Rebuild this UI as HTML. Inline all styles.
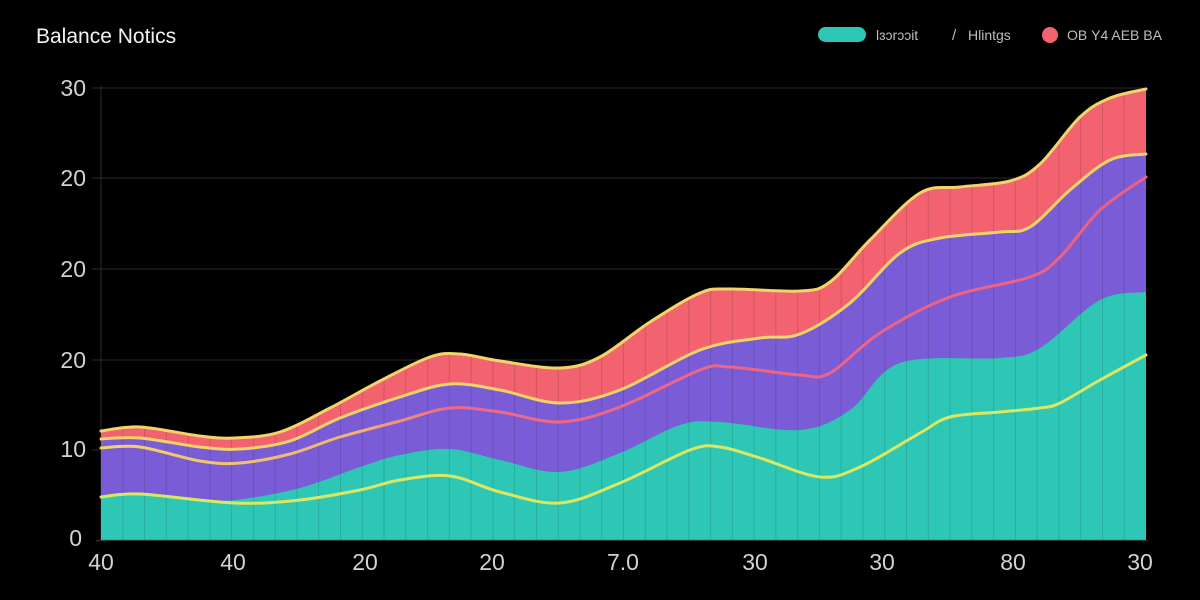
<!DOCTYPE html>
<html><head><meta charset="utf-8"><style>
html,body{margin:0;padding:0;background:#000;}
body{width:1200px;height:600px;overflow:hidden;position:relative;font-family:"Liberation Sans",sans-serif;}
svg{position:absolute;left:0;top:0;}
</style></head><body>
<svg id="s" width="1200" height="600" viewBox="0 0 1200 600" xmlns="http://www.w3.org/2000/svg">
<defs>
<linearGradient id="lg" x1="101" y1="0" x2="1146" y2="0" gradientUnits="userSpaceOnUse">
<stop offset="0" stop-color="#f2d468"/><stop offset="0.25" stop-color="#f2b070"/><stop offset="0.33" stop-color="#ee6a86"/><stop offset="1" stop-color="#ee5f82"/>
</linearGradient>
<clipPath id="cp"><path id="cpath" d=""/></clipPath>
</defs>
<rect width="1200" height="600" fill="#000"/>
<text x="36" y="43" font-size="21" fill="#f2f2f2" font-family="Liberation Sans, sans-serif">Balance Notics</text>
<!-- legend -->
<rect x="818" y="27" width="48" height="15" rx="7.5" fill="#2ec7b6"/>
<text x="876" y="40" font-size="14" fill="#bdbdbd" font-family="Liberation Sans, sans-serif">Ɩɜɔrɔɔit</text>
<text x="952" y="40" font-size="15" fill="#bdbdbd" font-family="Liberation Sans, sans-serif">/</text>
<text x="968" y="40" font-size="14" fill="#bdbdbd" font-family="Liberation Sans, sans-serif">Hlintgs</text>
<circle cx="1050" cy="35" r="8" fill="#f2626f"/>
<text x="1067" y="40" font-size="14" fill="#bdbdbd" font-family="Liberation Sans, sans-serif">ΟΒ Y4 AEB BA</text>
<!-- grid -->
<g stroke="#1e1e1e" stroke-width="1.5">
<line x1="92" y1="88" x2="1146" y2="88"/>
<line x1="92" y1="178" x2="1146" y2="178"/>
<line x1="92" y1="269" x2="1146" y2="269"/>
<line x1="92" y1="360" x2="1146" y2="360"/>
<line x1="92" y1="450" x2="1146" y2="450"/>
</g>
<line x1="101" y1="86" x2="101" y2="540" stroke="#262626" stroke-width="1.2"/>
<g id="fills"></g>
<line x1="96" y1="540.5" x2="1148" y2="540.5" stroke="#333" stroke-width="1.2"/>
<g font-size="23" fill="#d2d2d2" font-family="Liberation Sans, sans-serif" text-anchor="end">
<text x="86" y="96">30</text>
<text x="86" y="186">20</text>
<text x="86" y="277">20</text>
<text x="86" y="368">20</text>
<text x="86" y="457">10</text>
<text x="82" y="546">0</text>
</g>
<g font-size="23" fill="#d2d2d2" font-family="Liberation Sans, sans-serif" text-anchor="middle">
<text x="101" y="570">40</text>
<text x="233" y="570">40</text>
<text x="365" y="570">20</text>
<text x="492" y="570">20</text>
<text x="623" y="570">7.0</text>
<text x="755" y="570">30</text>
<text x="882" y="570">30</text>
<text x="1013" y="570">80</text>
<text x="1140" y="570">30</text>
</g>
</svg>
<script>
var T=[[101,431],[140,427],[200,436],[235,438],[280,432],[330,408],[380,381],[430,357],[460,354],[500,361],[560,368],[600,357],[650,322],[700,293],[730,289],[800,291],[830,282],[870,240],[920,193],[960,187],[1010,181],[1040,164],[1080,117],[1110,98],[1146,89]];
var P=[[101,439],[140,438],[200,447],[240,449],[290,441],[340,418],[400,397],[450,384],[500,390],[560,403],[620,390],[700,350],[760,338],[800,334],[850,303],[900,253],[940,238],[1000,232],[1030,227],[1070,190],[1110,160],[1146,154]];
var L=[[101,448],[140,447],[200,461],[240,463],[290,454],[340,437],[400,421],[450,408],[500,412],[560,422],[620,407],[700,370],[730,367],[800,375],[830,373],[880,333],[950,297],[1030,277],[1060,257],[1100,210],[1146,177]];
var G=[[101,497],[140,494],[200,499],[235,500],[300,488],[360,467],[400,455],[450,449],[500,460],[560,472],[620,453],[680,425],[720,422],[800,430],[850,410],[900,363],[1000,358],[1040,348],[1100,300],[1146,292]];
var Y=[[101,497],[140,494],[235,503],[300,500],[360,490],[400,480],[450,476],[500,492],[560,503],[620,483],[690,450],[720,447],[760,458],[820,477],[860,467],[920,433],[950,417],[1000,412],[1040,408],[1060,403],[1100,380],[1146,355]];
function cr(p){var d="M"+p[0][0]+" "+p[0][1];for(var i=0;i<p.length-1;i++){var p0=p[i-1]||p[i],p1=p[i],p2=p[i+1],p3=p[i+2]||p[i+1];var c1x=p1[0]+(p2[0]-p0[0])/6,c1y=p1[1]+(p2[1]-p0[1])/6,c2x=p2[0]-(p3[0]-p1[0])/6,c2y=p2[1]-(p3[1]-p1[1])/6;d+=" C"+c1x.toFixed(1)+" "+c1y.toFixed(1)+" "+c2x.toFixed(1)+" "+c2y.toFixed(1)+" "+p2[0]+" "+p2[1];}return d;}
function area(p){return cr(p)+" L1146 540 L101 540 Z";}
var ns="http://www.w3.org/2000/svg",g=document.getElementById("fills");
function add(tag,attrs){var e=document.createElementNS(ns,tag);for(var k in attrs)e.setAttribute(k,attrs[k]);g.appendChild(e);return e;}
document.getElementById("cpath").setAttribute("d",area(T));
add("path",{d:area(T),fill:"#f2626f"});
add("path",{d:area(P),fill:"#7a5cd6"});
add("path",{d:area(G),fill:"#2ec7b6"});
var st=document.createElementNS(ns,"g");st.setAttribute("clip-path","url(#cp)");st.setAttribute("stroke","rgba(0,0,0,0.13)");st.setAttribute("stroke-width","1");
for(var k=1;k<48;k++){var x=101+k*1045/48;var l=document.createElementNS(ns,"line");l.setAttribute("x1",x.toFixed(1));l.setAttribute("x2",x.toFixed(1));l.setAttribute("y1","80");l.setAttribute("y2","540");st.appendChild(l);}
g.appendChild(st);
add("path",{d:cr(Y),fill:"none",stroke:"#dbe85f","stroke-width":"3","stroke-linecap":"round"});
add("path",{d:cr(L),fill:"none",stroke:"url(#lg)","stroke-width":"3","stroke-linecap":"round"});
add("path",{d:cr(P),fill:"none",stroke:"#f3d46a","stroke-width":"3","stroke-linecap":"round"});
add("path",{d:cr(T),fill:"none",stroke:"#f3d46a","stroke-width":"3","stroke-linecap":"round"});
</script>
</body></html>
